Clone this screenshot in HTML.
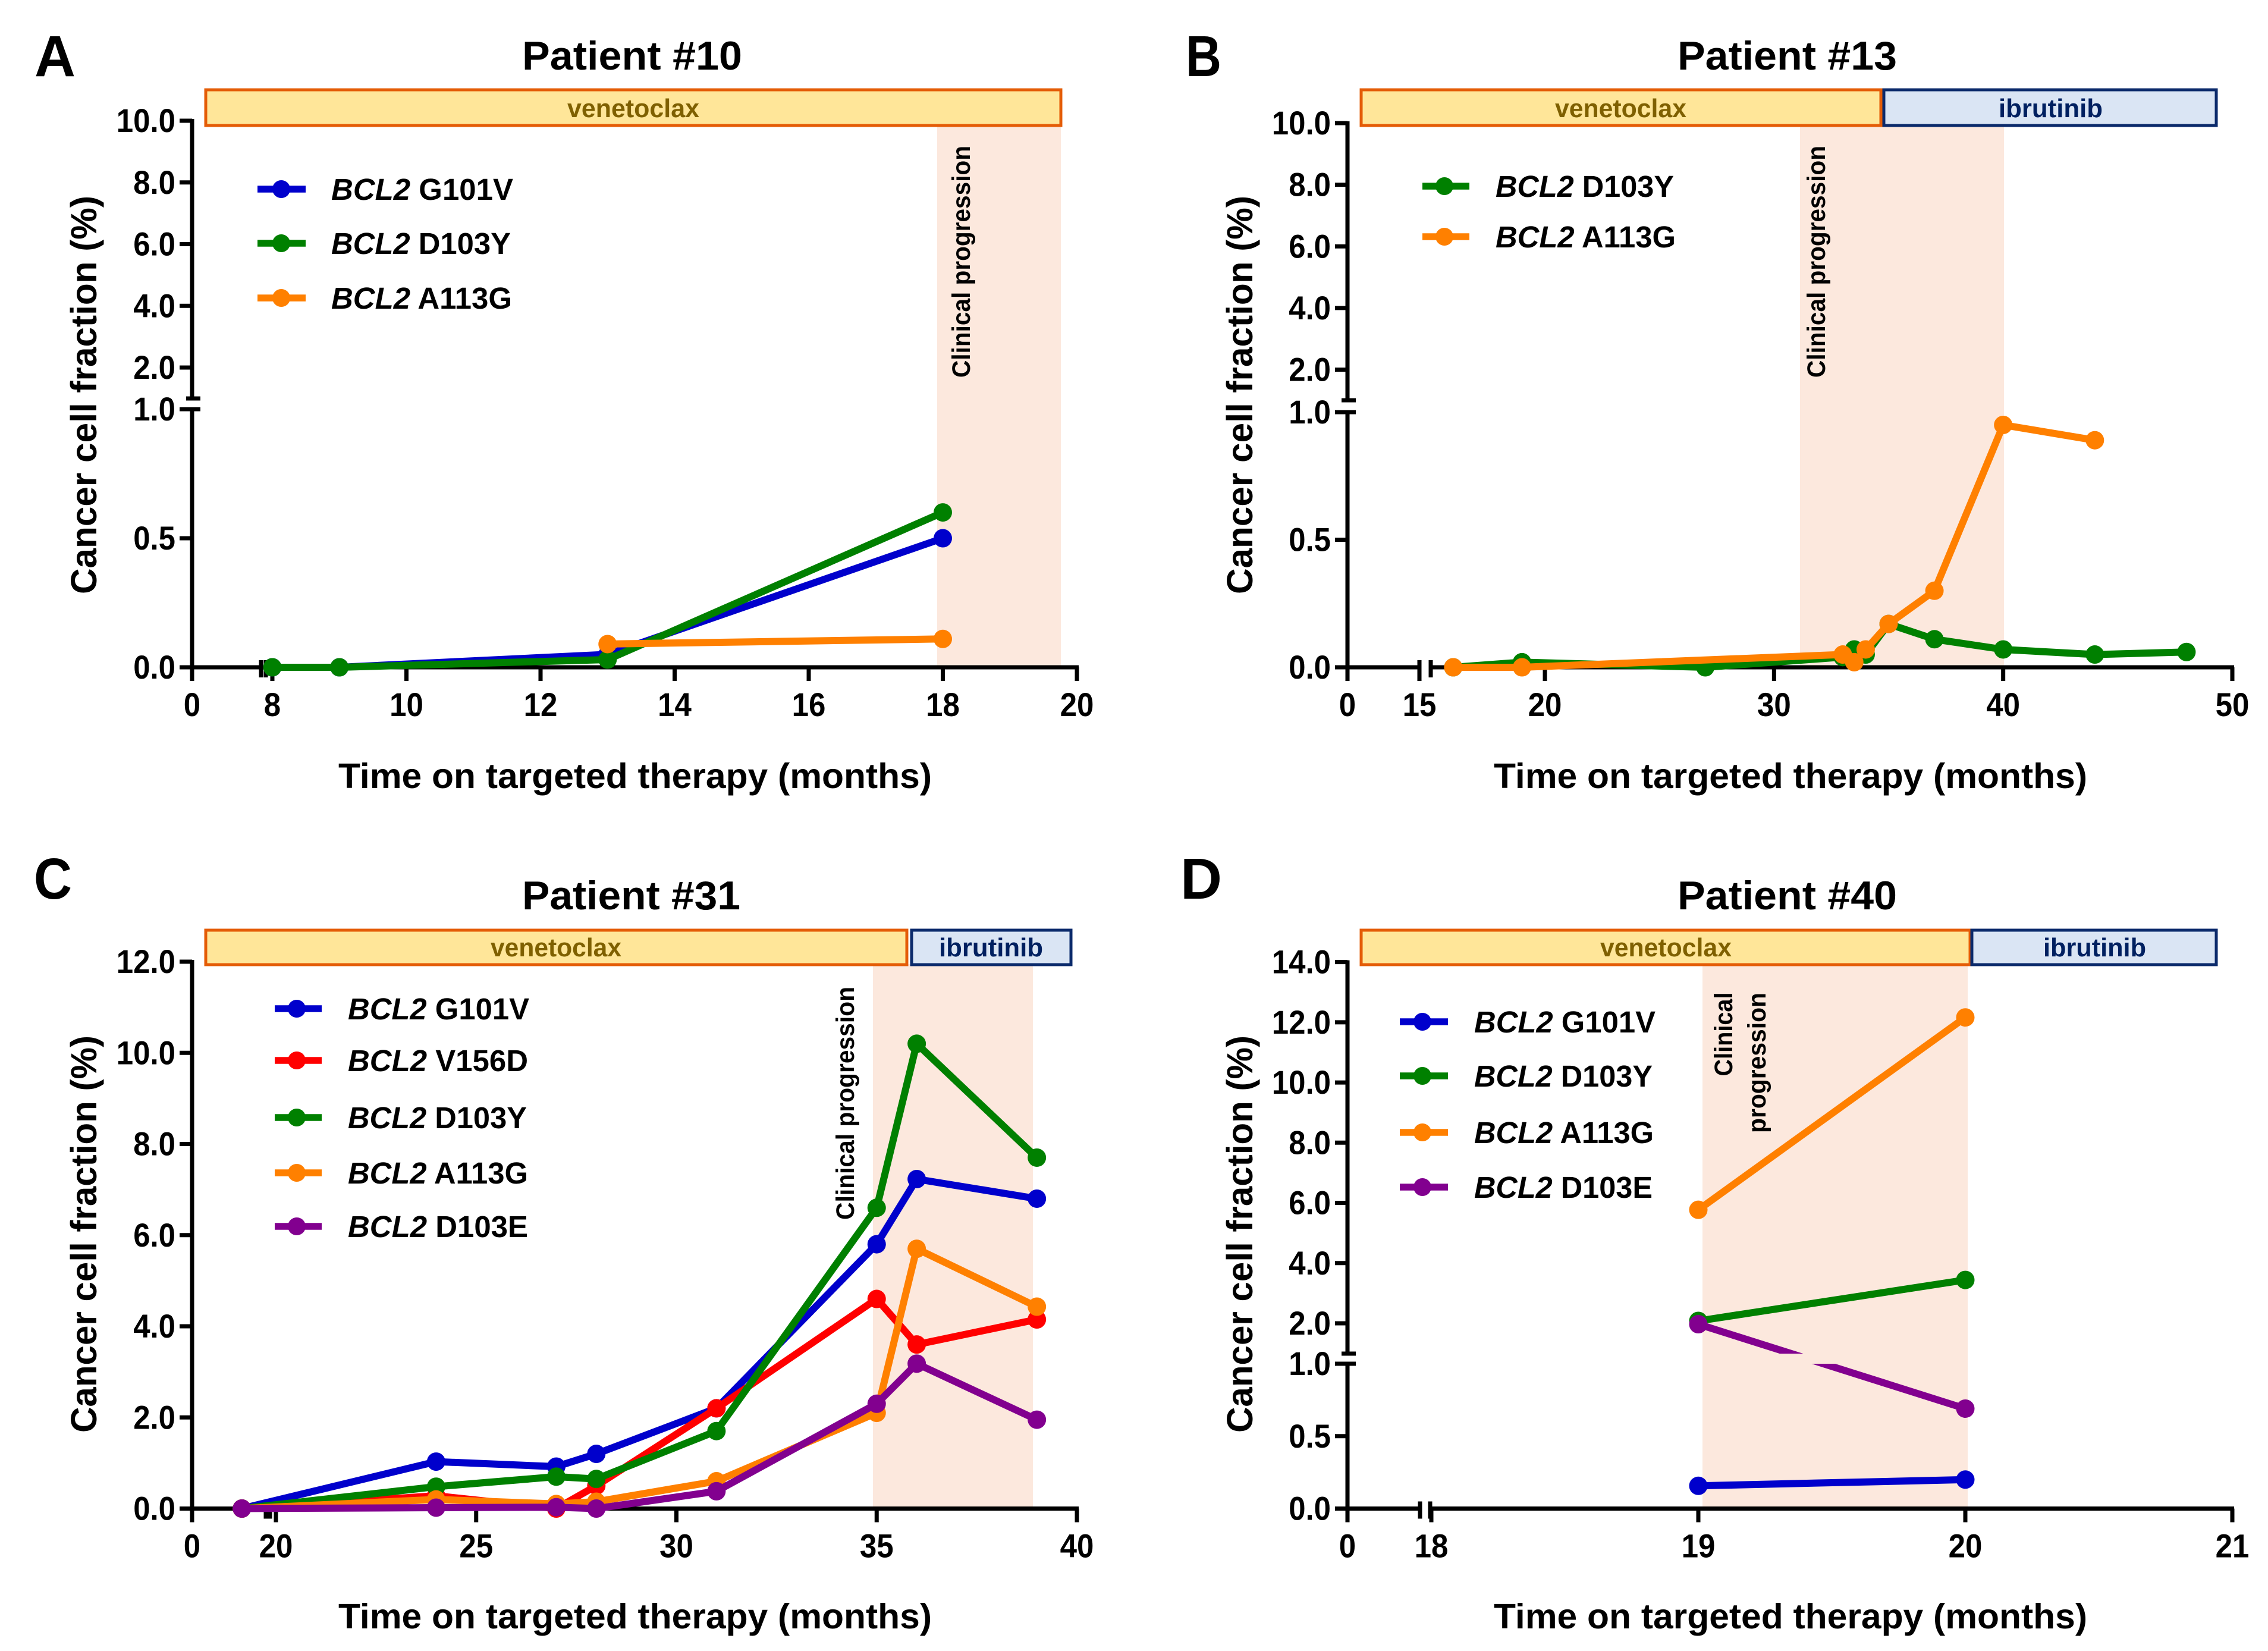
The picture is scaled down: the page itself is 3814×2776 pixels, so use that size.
<!DOCTYPE html>
<html lang="en">
<head>
<meta charset="utf-8">
<title>Cancer cell fraction over time on targeted therapy</title>
<style>
html,body{margin:0;padding:0;background:#fff}
svg{display:block}
text{font-family:"Liberation Sans",Arial,sans-serif;font-weight:700;fill:#000}
.ttl{font-size:68px}
.ltr{font-size:97px}
.xt{font-size:59px;text-anchor:middle}
.yt{font-size:61px;text-anchor:middle}
.lg{font-size:51px}
.lg tspan.i{font-style:italic}
.ven{font-size:44px;fill:#7F6000}
.ibr{font-size:44px;fill:#002060}
.cp{font-size:43px;text-anchor:middle}
.tk{font-size:56px}
.vb{fill:#FFE699;stroke:#E45C06;stroke-width:5}
.ib{fill:#DAE5F4;stroke:#0B2A6B;stroke-width:5}
.sh{fill:#FCE8DD}
.ll{stroke-width:11.5;fill:none;stroke-linecap:butt}
</style>
</head>
<body>
<svg id="fig" xmlns="http://www.w3.org/2000/svg" width="3814" height="2776" viewBox="0 0 3814 2776">
<rect width="3814" height="2776" fill="#fff"/>

<!-- Panel A -->
<g id="panel-a">
<text class="ltr" x="58" y="128" textLength="69" lengthAdjust="spacingAndGlyphs">A</text>
<text class="ttl" x="878" y="117" textLength="370" lengthAdjust="spacingAndGlyphs">Patient #10</text>
<rect class="sh" x="1576" y="211" width="208" height="911"/>
<rect class="vb" x="346" y="151" width="1438" height="60"/>
<text class="ven" x="954" y="197" textLength="222" lengthAdjust="spacingAndGlyphs">venetoclax</text>
<text class="cp" transform="translate(1631,440) rotate(-90)" textLength="390" lengthAdjust="spacingAndGlyphs">Clinical progression</text>
<text class="yt" transform="translate(162,664) rotate(-90)" textLength="670" lengthAdjust="spacingAndGlyphs">Cancer cell fraction (%)</text>
<text class="xt" x="1068" y="1325" textLength="998" lengthAdjust="spacingAndGlyphs">Time on targeted therapy (months)</text>
<g>
<g><line class="ll" x1="433" x2="514" y1="318" y2="318" stroke="#0000CC"/><circle cx="473" cy="318" r="15" fill="#0000CC"/><text class="lg" x="557" y="336" textLength="306" lengthAdjust="spacingAndGlyphs"><tspan class="i">BCL2</tspan> G101V</text></g>
<g><line class="ll" x1="433" x2="514" y1="409" y2="409" stroke="#008000"/><circle cx="473" cy="409" r="15" fill="#008000"/><text class="lg" x="557" y="427" textLength="302" lengthAdjust="spacingAndGlyphs"><tspan class="i">BCL2</tspan> D103Y</text></g>
<g><line class="ll" x1="433" x2="514" y1="501" y2="501" stroke="#FF8000"/><circle cx="473" cy="501" r="15" fill="#FF8000"/><text class="lg" x="557" y="519" textLength="304" lengthAdjust="spacingAndGlyphs"><tspan class="i">BCL2</tspan> A113G</text></g>
</g>
</g>

<!-- Panel B -->
<g id="panel-b">
<text class="ltr" x="1994" y="128" textLength="60" lengthAdjust="spacingAndGlyphs">B</text>
<text class="ttl" x="2821" y="117" textLength="369" lengthAdjust="spacingAndGlyphs">Patient #13</text>
<rect class="sh" x="3027" y="211" width="343" height="911"/>
<rect class="vb" x="2289" y="151" width="874" height="60"/>
<rect class="ib" x="3168" y="151" width="559" height="60"/>
<text class="ven" x="2615" y="197" textLength="221" lengthAdjust="spacingAndGlyphs">venetoclax</text>
<text class="ibr" x="3361" y="197" textLength="175" lengthAdjust="spacingAndGlyphs">ibrutinib</text>
<text class="cp" transform="translate(3069,440) rotate(-90)" textLength="390" lengthAdjust="spacingAndGlyphs">Clinical progression</text>
<text class="yt" transform="translate(2106,664) rotate(-90)" textLength="670" lengthAdjust="spacingAndGlyphs">Cancer cell fraction (%)</text>
<text class="xt" x="3011" y="1325" textLength="998" lengthAdjust="spacingAndGlyphs">Time on targeted therapy (months)</text>
<g>
<g><line class="ll" x1="2392" x2="2471" y1="313" y2="313" stroke="#008000"/><circle cx="2429" cy="313" r="15" fill="#008000"/><text class="lg" x="2515" y="331" textLength="300" lengthAdjust="spacingAndGlyphs"><tspan class="i">BCL2</tspan> D103Y</text></g>
<g><line class="ll" x1="2392" x2="2471" y1="398" y2="398" stroke="#FF8000"/><circle cx="2429" cy="398" r="15" fill="#FF8000"/><text class="lg" x="2515" y="416" textLength="303" lengthAdjust="spacingAndGlyphs"><tspan class="i">BCL2</tspan> A113G</text></g>
</g>
</g>

<!-- Panel C -->
<g id="panel-c">
<text class="ltr" x="57" y="1511" textLength="64" lengthAdjust="spacingAndGlyphs">C</text>
<text class="ttl" x="878" y="1529" textLength="367" lengthAdjust="spacingAndGlyphs">Patient #31</text>
<rect class="sh" x="1468" y="1621" width="269" height="915"/>
<rect class="vb" x="346" y="1564" width="1179" height="58"/>
<rect class="ib" x="1533" y="1564" width="268" height="58"/>
<text class="ven" x="825" y="1608" textLength="220" lengthAdjust="spacingAndGlyphs">venetoclax</text>
<text class="ibr" x="1579" y="1608" textLength="175" lengthAdjust="spacingAndGlyphs">ibrutinib</text>
<text class="cp" transform="translate(1436,1855) rotate(-90)" textLength="392" lengthAdjust="spacingAndGlyphs">Clinical progression</text>
<text class="yt" transform="translate(162,2075) rotate(-90)" textLength="668" lengthAdjust="spacingAndGlyphs">Cancer cell fraction (%)</text>
<text class="xt" x="1068" y="2738" textLength="998" lengthAdjust="spacingAndGlyphs">Time on targeted therapy (months)</text>
<g>
<g><line class="ll" x1="462" x2="541" y1="1696" y2="1696" stroke="#0000CC"/><circle cx="499" cy="1696" r="15" fill="#0000CC"/><text class="lg" x="585" y="1714" textLength="305" lengthAdjust="spacingAndGlyphs"><tspan class="i">BCL2</tspan> G101V</text></g>
<g><line class="ll" x1="462" x2="541" y1="1783" y2="1783" stroke="#FF0000"/><circle cx="499" cy="1783" r="15" fill="#FF0000"/><text class="lg" x="585" y="1801" textLength="303" lengthAdjust="spacingAndGlyphs"><tspan class="i">BCL2</tspan> V156D</text></g>
<g><line class="ll" x1="462" x2="541" y1="1879" y2="1879" stroke="#008000"/><circle cx="499" cy="1879" r="15" fill="#008000"/><text class="lg" x="585" y="1897" textLength="301" lengthAdjust="spacingAndGlyphs"><tspan class="i">BCL2</tspan> D103Y</text></g>
<g><line class="ll" x1="462" x2="541" y1="1972" y2="1972" stroke="#FF8000"/><circle cx="499" cy="1972" r="15" fill="#FF8000"/><text class="lg" x="585" y="1990" textLength="303" lengthAdjust="spacingAndGlyphs"><tspan class="i">BCL2</tspan> A113G</text></g>
<g><line class="ll" x1="462" x2="541" y1="2062" y2="2062" stroke="#82008F"/><circle cx="499" cy="2062" r="15" fill="#82008F"/><text class="lg" x="585" y="2080" textLength="303" lengthAdjust="spacingAndGlyphs"><tspan class="i">BCL2</tspan> D103E</text></g>
</g>
</g>

<!-- Panel D -->
<g id="panel-d">
<text class="ltr" x="1985" y="1511" textLength="70" lengthAdjust="spacingAndGlyphs">D</text>
<text class="ttl" x="2821" y="1529" textLength="369" lengthAdjust="spacingAndGlyphs">Patient #40</text>
<rect class="sh" x="2863" y="1621" width="446" height="915"/>
<rect class="vb" x="2289" y="1564" width="1024" height="58"/>
<rect class="ib" x="3316" y="1564" width="411" height="58"/>
<text class="ven" x="2691" y="1608" textLength="221" lengthAdjust="spacingAndGlyphs">venetoclax</text>
<text class="ibr" x="3436" y="1608" textLength="173" lengthAdjust="spacingAndGlyphs">ibrutinib</text>
<text class="cp" transform="translate(2913,1739) rotate(-90)" textLength="141" lengthAdjust="spacingAndGlyphs">Clinical</text>
<text class="cp" transform="translate(2969,1787) rotate(-90)" textLength="236" lengthAdjust="spacingAndGlyphs">progression</text>
<text class="yt" transform="translate(2106,2075) rotate(-90)" textLength="668" lengthAdjust="spacingAndGlyphs">Cancer cell fraction (%)</text>
<text class="xt" x="3011" y="2738" textLength="998" lengthAdjust="spacingAndGlyphs">Time on targeted therapy (months)</text>
<g>
<g><line class="ll" x1="2354" x2="2435" y1="1718" y2="1718" stroke="#0000CC"/><circle cx="2392" cy="1718" r="15" fill="#0000CC"/><text class="lg" x="2479" y="1736" textLength="305" lengthAdjust="spacingAndGlyphs"><tspan class="i">BCL2</tspan> G101V</text></g>
<g><line class="ll" x1="2354" x2="2435" y1="1809" y2="1809" stroke="#008000"/><circle cx="2392" cy="1809" r="15" fill="#008000"/><text class="lg" x="2479" y="1827" textLength="300" lengthAdjust="spacingAndGlyphs"><tspan class="i">BCL2</tspan> D103Y</text></g>
<g><line class="ll" x1="2354" x2="2435" y1="1904" y2="1904" stroke="#FF8000"/><circle cx="2392" cy="1904" r="15" fill="#FF8000"/><text class="lg" x="2479" y="1922" textLength="302" lengthAdjust="spacingAndGlyphs"><tspan class="i">BCL2</tspan> A113G</text></g>
<g><line class="ll" x1="2354" x2="2435" y1="1996" y2="1996" stroke="#82008F"/><circle cx="2392" cy="1996" r="15" fill="#82008F"/><text class="lg" x="2479" y="2014" textLength="300" lengthAdjust="spacingAndGlyphs"><tspan class="i">BCL2</tspan> D103E</text></g>
</g>
</g>
</svg>

<script>
// ---- Panel A data ----
const aXTicks = [0, 8, 10, 12, 14, 16, 18, 20];
const aXTickLabels = ['0', '8', '10', '12', '14', '16', '18', '20'];
const aYTicks = [0, 0.5, 1, 2, 4, 6, 8, 10];
const aYTickLabels = ['0.0', '0.5', '1.0', '2.0', '4.0', '6.0', '8.0', '10.0'];
const aG101vX = [8, 9, 13, 18];
const aG101vY = [0, 0, 0.05, 0.5];
const aD103yX = [8, 9, 13, 18];
const aD103yY = [0, 0, 0.03, 0.6];
const aA113gX = [13, 18];
const aA113gY = [0.09, 0.11];

// ---- Panel B data ----
const bXTicks = [0, 15, 20, 30, 40, 50];
const bXTickLabels = ['0', '15', '20', '30', '40', '50'];
const bYTicks = [0, 0.5, 1, 2, 4, 6, 8, 10];
const bYTickLabels = ['0.0', '0.5', '1.0', '2.0', '4.0', '6.0', '8.0', '10.0'];
const bD103yX = [16, 19, 27, 33, 33.5, 34, 35, 37, 40, 44, 48];
const bD103yY = [0, 0.02, 0, 0.04, 0.07, 0.05, 0.17, 0.11, 0.07, 0.05, 0.06];
const bA113gX = [16, 19, 33, 33.5, 34, 35, 37, 40, 44];
const bA113gY = [0, 0, 0.05, 0.02, 0.07, 0.17, 0.3, 0.95, 0.89];

// ---- Panel C data ----
const cXTicks = [0, 20, 25, 30, 35, 40];
const cXTickLabels = ['0', '20', '25', '30', '35', '40'];
const cYTicks = [0, 2, 4, 6, 8, 10, 12];
const cYTickLabels = ['0.0', '2.0', '4.0', '6.0', '8.0', '10.0', '12.0'];
const cMonths = [19.15, 24, 27, 28, 31, 35, 36, 39];
const cG101vY = [0, 1.03, 0.92, 1.2, 2.2, 5.8, 7.23, 6.8];
const cV156dY = [0, 0.28, 0, 0.5, 2.2, 4.6, 3.6, 4.15];
const cD103yY = [0, 0.48, 0.7, 0.65, 1.7, 6.6, 10.2, 7.7];
const cA113gY = [0, 0.2, 0.1, 0.15, 0.6, 2.1, 5.7, 4.43];
const cD103eY = [0, 0.02, 0.03, 0, 0.38, 2.3, 3.18, 1.95];

// ---- Panel D data ----
const dXTicks = [0, 18, 19, 20, 21];
const dXTickLabels = ['0', '18', '19', '20', '21'];
const dYTicks = [0, 0.5, 1, 2, 4, 6, 8, 10, 12, 14];
const dYTickLabels = ['0.0', '0.5', '1.0', '2.0', '4.0', '6.0', '8.0', '10.0', '12.0', '14.0'];
const dMonths = [19, 20];
const dG101vY = [0.157, 0.2];
const dD103yY = [2.08, 3.44];
const dA113gY = [5.77, 12.16];
const dD103eY = [1.97, 0.69];

const SVGNS = 'http://www.w3.org/2000/svg';
const BLUE = '#0000CC', RED = '#FF0000', GREEN = '#008000', ORANGE = '#FF8000', PURPLE = '#82008F';

function add(parent, tag, attrs, text) {
  const el = document.createElementNS(SVGNS, tag);
  for (const k in attrs) el.setAttribute(k, attrs[k]);
  if (text !== undefined) el.textContent = text;
  parent.appendChild(el);
  return el;
}

// Condensed width of a numeric tick label.
function labelWidth(s) {
  let w = 0;
  for (const ch of s) w += (ch === '.') ? 14 : 28.4;
  return w;
}

// Axis scale: piecewise x (short stub before the break, then linear) and
// piecewise y (lower 0..1 band + upper band, or plain linear if no break).
function makeX(a) {
  const k = (a.x1 - a.x0) / (a.v1 - a.v0);
  return function (v) {
    if (v <= a.stubMax) return a.ox + (v / a.stubMax) * (a.brk1 - a.ox);
    return a.x0 + (v - a.v0) * k;
  };
}
function makeY(a) {
  const ku = (a.uPx2 - a.uPx1) / (a.uV2 - a.uV1);
  if (a.y1 === undefined) {
    return function (v) { return a.y0 + v * (a.uPx2 - a.y0) / a.uV2; };
  }
  return function (v) {
    if (v <= 1) return a.y0 + v * (a.y1 - a.y0);
    return a.uPx1 + (v - a.uV1) * ku;
  };
}

function drawPanel(id, a, xTicks, xLabels, yTicks, yLabels, series) {
  const root = document.getElementById('panel-' + id);
  const x = makeX(a), y = makeY(a);
  const ax = add(root, 'g', {stroke: '#000', 'stroke-width': 7, fill: 'none'});
  
  

  // y axis lines
  const yTopPx = y(yTicks[yTicks.length - 1]);
  if (a.y1 !== undefined) {
    const yl = add(ax, 'line', {x1: a.ox, x2: a.ox, y1: a.y0, y2: a.y1 - 3});
    
    
    const yu = add(ax, 'line', {x1: a.ox, x2: a.ox, y1: a.brkY + 3, y2: yTopPx - 3});
    
    
    const m1 = add(ax, 'line', {x1: a.ox - 10, x2: a.ox + 14, y1: a.brkY, y2: a.brkY});
    
    
    const m2 = add(ax, 'line', {x1: a.ox - 20, x2: a.ox + 14, y1: a.y1, y2: a.y1});
    
    
  } else {
    const yl = add(ax, 'line', {x1: a.ox, x2: a.ox, y1: a.y0 + 3, y2: yTopPx - 3});
    
    
  }

  // x axis lines
  const xEnd = x(xTicks[xTicks.length - 1]);
  const xa = add(ax, 'line', {x1: a.ox - 20, x2: a.brk1, y1: a.y0, y2: a.y0});
  
  
  const xb = add(ax, 'line', {x1: a.brk2, x2: xEnd + 3, y1: a.y0, y2: a.y0});
  
  
  const b1 = add(ax, 'line', {x1: a.brk1, x2: a.brk1, y1: a.y0 - 12, y2: a.y0 + 17});
  
  
  const b2 = add(ax, 'line', {x1: a.brk2, x2: a.brk2, y1: a.y0 - 12, y2: a.y0 + 17});
  
  

  // y ticks + labels
  yTicks.forEach(function (v, i) {
    const py = y(v);
    const t = add(ax, 'line', {x1: a.ox - 21, x2: a.ox, y1: py, y2: py});
    
    
    const l = add(root, 'text', {class: 'tk', x: a.ox - 28, y: py + 19, 'text-anchor': 'end', textLength: labelWidth(yLabels[i]), lengthAdjust: 'spacingAndGlyphs'}, yLabels[i]);
    
    
  });

  // x ticks + labels
  xTicks.forEach(function (v, i) {
    const px = x(v);
    const t = add(ax, 'line', {x1: px, x2: px, y1: a.y0, y2: a.y0 + 23});
    
    
    const l = add(root, 'text', {class: 'tk', x: px, y: a.y0 + 82, 'text-anchor': 'middle', textLength: labelWidth(xLabels[i]), lengthAdjust: 'spacingAndGlyphs'}, xLabels[i]);
    
    
  });

  // clip lines out of the y-axis break band
  let clipId = null;
  if (a.y1 !== undefined) {
    clipId = 'break-clip-' + id;
    const defs = add(root, 'defs', {});
    const cp = add(defs, 'clipPath', {id: clipId});
    add(cp, 'rect', {x: 0, y: 0, width: 3814, height: a.brkY});
    add(cp, 'rect', {x: 0, y: a.y1, width: 3814, height: 2776 - a.y1});
  }

  // series
  series.forEach(function (s) {
    const g = add(root, 'g', {});
    
    
    const pts = s.xs.map(function (v, i) { return x(v).toFixed(1) + ',' + y(s.ys[i]).toFixed(1); }).join(' ');
    const pl = add(g, 'polyline', {points: pts, fill: 'none', stroke: s.color, 'stroke-width': 12, 'stroke-linejoin': 'round'});
    if (clipId) pl.setAttribute('clip-path', 'url(#' + clipId + ')');
    
    
    s.xs.forEach(function (v, i) {
      const c = add(g, 'circle', {cx: x(v), cy: y(s.ys[i]), r: 15.5, fill: s.color});
      
      
    });
  });
}

drawPanel('a',
  {ox: 323, stubMax: 7, brk1: 439, brk2: 447, v0: 8, x0: 458, v1: 20, x1: 1811,
   y0: 1122, y1: 688, brkY: 670, uV1: 2, uPx1: 618, uV2: 10, uPx2: 203},
  aXTicks, aXTickLabels, aYTicks, aYTickLabels,
  [{name: 'g101v', color: BLUE, xs: aG101vX, ys: aG101vY},
   {name: 'd103y', color: GREEN, xs: aD103yX, ys: aD103yY},
   {name: 'a113g', color: ORANGE, xs: aA113gX, ys: aA113gY}]);

drawPanel('b',
  {ox: 2266, stubMax: 15, brk1: 2387, brk2: 2406, v0: 20, x0: 2598, v1: 50, x1: 3754,
   y0: 1122, y1: 693, brkY: 673, uV1: 2, uPx1: 621.5, uV2: 10, uPx2: 207},
  bXTicks, bXTickLabels, bYTicks, bYTickLabels,
  [{name: 'd103y', color: GREEN, xs: bD103yX, ys: bD103yY},
   {name: 'a113g', color: ORANGE, xs: bA113gX, ys: bA113gY}]);

drawPanel('c',
  {ox: 323, stubMax: 18, brk1: 447, brk2: 454, v0: 20, x0: 464, v1: 40, x1: 1811,
   y0: 2536.5, uV1: 0, uPx1: 2536.5, uV2: 12, uPx2: 1617},
  cXTicks, cXTickLabels, cYTicks, cYTickLabels,
  [{name: 'g101v', color: BLUE, xs: cMonths, ys: cG101vY},
   {name: 'v156d', color: RED, xs: cMonths, ys: cV156dY},
   {name: 'd103y', color: GREEN, xs: cMonths, ys: cD103yY},
   {name: 'a113g', color: ORANGE, xs: cMonths, ys: cA113gY},
   {name: 'd103e', color: PURPLE, xs: cMonths, ys: cD103eY}]);

drawPanel('d',
  {ox: 2266, stubMax: 17, brk1: 2388, brk2: 2405, v0: 19, x0: 2856, v1: 21, x1: 3754,
   y0: 2536.5, y1: 2293, brkY: 2276, uV1: 2, uPx1: 2225, uV2: 14, uPx2: 1617.6},
  dXTicks, dXTickLabels, dYTicks, dYTickLabels,
  [{name: 'g101v', color: BLUE, xs: dMonths, ys: dG101vY},
   {name: 'd103y', color: GREEN, xs: dMonths, ys: dD103yY},
   {name: 'a113g', color: ORANGE, xs: dMonths, ys: dA113gY},
   {name: 'd103e', color: PURPLE, xs: dMonths, ys: dD103eY}]);
</script>
</body>
</html>
